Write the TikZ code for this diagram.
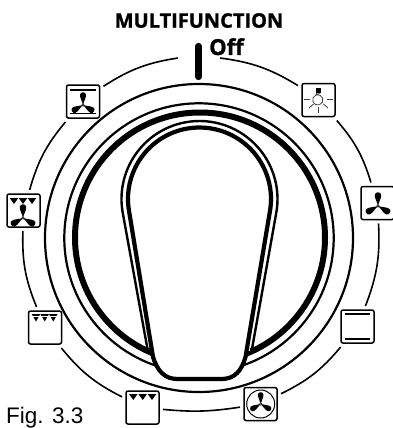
\documentclass[tikz,border=0pt]{standalone}
\usepackage{fontspec}
\newfontfamily\dialfont[BoldFeatures={FakeBold=1.2}]{Open Sans}
\newfontfamily\capfont{Liberation Sans}
\newcommand{\fanblades}[2]{%
    \foreach \rot in {0,120,240} {
        \fill[shift={#1},rotate=\rot,scale=#2] (0,0) .. controls (-.06,-.3) and (-.25,-.55) .. (-.23,-.8)
            .. controls (-.2,-1.04) and (.2,-1.04) .. (.23,-.8)
            .. controls (.25,-.55) and (.06,-.3) .. (0,0);
    }
    \filldraw[fill=white,line width=.5pt] #1 circle (1.2);
}
\tikzset{
    iconbox/.style={draw, line width=1.5pt, rounded corners=2pt, minimum size=33pt, inner sep=0pt, outer sep=4pt},
    dialarc/.style={line width=1.6pt},
    ringline/.style={line width=2.2pt},
    iconbar/.style={line width=1.6pt},
    bulbray/.style={line width=.8pt, draw=black!75}
}
\begin{document}
\begin{tikzpicture}[x=1pt, y=-1pt]
    \useasboundingbox (0,0) rectangle (393,428);

    % Labels
        \node[font=\dialfont\bfseries\fontsize{20}{20}\selectfont] (dialtitle) at (199,20.5) {MULTIFUNCTION};
        \node[font=\dialfont\bfseries\fontsize{22}{22}\selectfont, anchor=base west, inner sep=0pt] (offlabel) at (209,55) {Off};
        \node[font=\capfont\fontsize{22.5}{23}\selectfont, anchor=base west, inner sep=0pt] (figlabel) at (6,423) {Fig. 3.3};
        \draw[line width=6.2pt, line cap=round] (198.5,46) -- (198.5,77);

    % Icon boxes
        \node[iconbox] (fanbars) at (83,101.5) {};
        \node[iconbox] (grillfan) at (23.5,210.5) {};
        \node[iconbox] (grillsmall) at (45,327.5) {};
        \node[iconbox] (grillbig) at (142.5,407.5) {};
        \node[iconbox] (fanround) at (260.5,404) {};
        \node[iconbox] (barsonly) at (357.5,326.5) {};
        \node[iconbox] (fanonly) at (377.5,203) {};
        \node[iconbox] (bulb) at (318.5,100) {};
        \coordinate (markl) at (178,58);
        \coordinate (markr) at (220,58);

    % Arcs between the icons
        \draw[dialarc] (fanbars) to[bend left=12] (markl);
        \draw[dialarc] (markr) to[bend left=12] (bulb);
        \foreach \from/\to/\ang in {bulb/fanonly/12, fanonly/barsonly/12, barsonly/fanround/12, fanround/grillbig/7,
            grillbig/grillsmall/12, grillsmall/grillfan/12, grillfan/fanbars/12} {
            \draw[dialarc] (\from) to[bend left=\ang] (\to);
        }

    % Rings
        \draw[ringline] (199,238) circle (154);
        \draw[ringline] (199,238) circle (134.7);
        \draw[line width=6pt] (200,237.5) circle (125);

    % Knob
        \begin{scope}[shift={(199.5,199)}]
            \filldraw[fill=white, line width=2.4pt] (169.2:78) arc (169.2:370.8:78) -- (52.5,150) -- (-52,150) -- cycle;
            \draw[draw=white, line width=3pt] (-50,150) -- (50,150);
            \filldraw[fill=white, line width=4.2pt, line join=round] (169.5:71.5) arc (169.5:370.5:71.5) -- (46,158)
                .. controls (42,172) and (35,180) .. (22,180) -- (-22,180)
                .. controls (-35,180) and (-42,172) .. (-46.5,158) -- cycle;
        \end{scope}

    % Icon contents
        \draw[iconbar] (70,90) -- (96,90);
        \draw[iconbar] (70,113.5) -- (96,113.5);
        \fanblades{(83,105)}{13}

        \foreach \tx in {14,23,32} {
            \fill (\tx-4.3,198) -- (\tx+4.3,198) -- (\tx,204) -- cycle;
        }
        \fanblades{(23,218)}{14}

        \foreach \tx in {36,44.7,53.3} {
            \fill (\tx-4.3,314) -- (\tx+4.3,314) -- (\tx,321.5) -- cycle;
            \draw[white, line width=.5pt] (\tx-4.3,316) -- (\tx+4.3,316);
        }

        \foreach \tx in {133.3,142.7,152} {
            \fill (\tx-4.3,394) -- (\tx+4.3,394) -- (\tx,400) -- cycle;
        }

        \draw[line width=1pt] (260.7,404) circle (14);
        \fanblades{(260.7,404)}{12}

        \draw[iconbar] (345,314) -- (370,314);
        \draw[iconbar] (345,339) -- (370,339);

        \fanblades{(378,206)}{14}

        % bulb
        \draw[bulbray] (316.5,92.5) -- (316,95) arc (-110:250:5.2) -- (320.5,92.5);
        \fill (316,88) rectangle (321,92.5);
        \foreach \xa/\ya/\xb/\yb in {304/99/310/99, 327/99/333/99, 309/108/313.5/104, 328/108/323.5/104, 318.5/107/318.5/113} {
            \draw[bulbray] (\xa,\ya) -- (\xb,\yb);
        }
\end{tikzpicture}
\end{document}
